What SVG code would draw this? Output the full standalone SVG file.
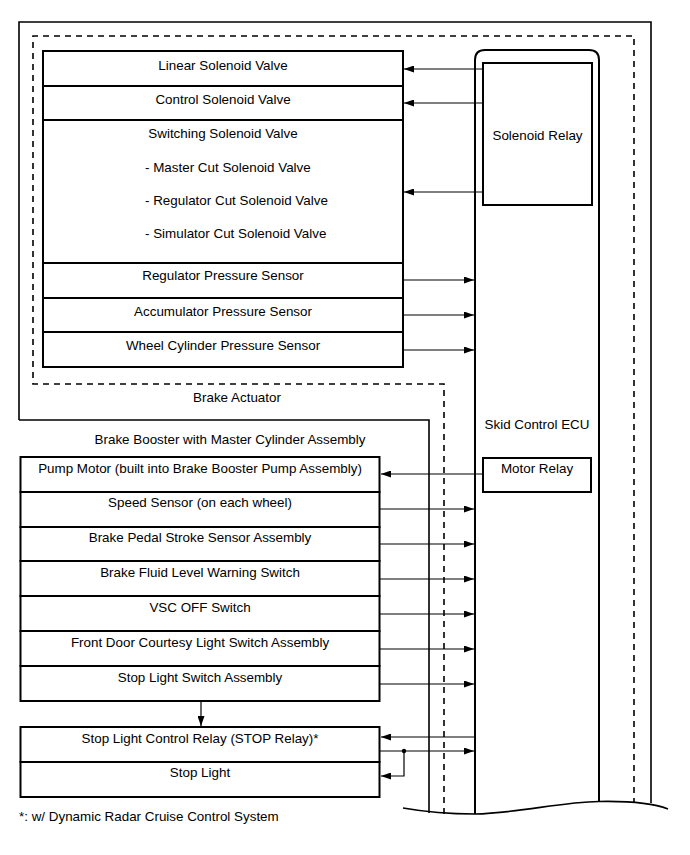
<svg xmlns="http://www.w3.org/2000/svg" width="690" height="855" viewBox="0 0 690 855">
<defs>
<marker id="ah" markerWidth="11" markerHeight="7" refX="10" refY="3.5" orient="auto" markerUnits="userSpaceOnUse">
<path d="M0,0 L10,3.5 L0,7 z" fill="#000"/>
</marker>
<style>
text{font-family:"Liberation Sans",Arial,sans-serif;font-size:13.4px;fill:#000}
.c{text-anchor:middle}
.box{fill:#fff;stroke:#000;stroke-width:2}
.frame{fill:none;stroke:#000;stroke-width:1.6}
.dash{fill:none;stroke:#000;stroke-width:1.6;stroke-dasharray:6,5}
.arr{fill:none;stroke:#000;stroke-width:1.2;marker-end:url(#ah)}
</style>
</defs>
<rect width="690" height="855" fill="#fff"/>

<g id="brake-booster-frame">
<path class="frame" d="M19 420 V22 H651 V803"/>
<path class="frame" d="M19 420 H429 V813"/>
<text class="c" x="230" y="444">Brake Booster with Master Cylinder Assembly</text>
</g>

<g id="brake-actuator-frame">
<path class="dash" d="M444 814 V384 H33 V36 H634 V802"/>
<text class="c" x="237" y="402">Brake Actuator</text>
</g>

<g id="skid-control-ecu">
<path class="frame" style="stroke-width:2" d="M475 814 V60 Q475 50 485 50 H589 Q599 50 599 60 V801.5"/>
<text class="c" x="537" y="429">Skid Control ECU</text>
</g>

<g id="break-line">
<path class="frame" d="M403 808 C420 811 440 814 475 814 C520 813 560 802 599 801.5 C625 801 650 802 668 809"/>
</g>

<g id="solenoid-relay">
<rect class="box" x="483" y="63" width="109" height="142"/>
<text class="c" x="537.5" y="140">Solenoid Relay</text>
</g>

<g id="motor-relay">
<rect class="box" x="483" y="458" width="108" height="34"/>
<text class="c" x="537" y="473">Motor Relay</text>
</g>

<g id="linear-solenoid-valve">
<rect class="box" x="43" y="51" width="360" height="35"/>
<text class="c" x="223" y="70">Linear Solenoid Valve</text>
</g>
<g id="control-solenoid-valve">
<rect class="box" x="43" y="86" width="360" height="34"/>
<text class="c" x="223" y="104">Control Solenoid Valve</text>
</g>
<g id="switching-solenoid-valve">
<rect class="box" x="43" y="120" width="360" height="143"/>
<text class="c" x="223" y="138">Switching Solenoid Valve</text>
<text x="145" y="172">- Master Cut Solenoid Valve</text>
<text x="145" y="205">- Regulator Cut Solenoid Valve</text>
<text x="145" y="238">- Simulator Cut Solenoid Valve</text>
</g>
<g id="regulator-pressure-sensor">
<rect class="box" x="43" y="263" width="360" height="35"/>
<text class="c" x="223" y="280">Regulator Pressure Sensor</text>
</g>
<g id="accumulator-pressure-sensor">
<rect class="box" x="43" y="298" width="360" height="34"/>
<text class="c" x="223" y="316">Accumulator Pressure Sensor</text>
</g>
<g id="wheel-cylinder-pressure-sensor">
<rect class="box" x="43" y="332" width="360" height="35"/>
<text class="c" x="223" y="350">Wheel Cylinder Pressure Sensor</text>
</g>

<g id="pump-motor">
<rect class="box" x="20.5" y="457" width="359" height="35"/>
<text class="c" x="200" y="472.5">Pump Motor (built into Brake Booster Pump Assembly)</text>
</g>
<g id="speed-sensor">
<rect class="box" x="20.5" y="492" width="359" height="35"/>
<text class="c" x="200" y="506.5">Speed Sensor (on each wheel)</text>
</g>
<g id="brake-pedal-stroke-sensor">
<rect class="box" x="20.5" y="527" width="359" height="34"/>
<text class="c" x="200" y="541.5">Brake Pedal Stroke Sensor Assembly</text>
</g>
<g id="brake-fluid-level-switch">
<rect class="box" x="20.5" y="561" width="359" height="35"/>
<text class="c" x="200" y="576.5">Brake Fluid Level Warning Switch</text>
</g>
<g id="vsc-off-switch">
<rect class="box" x="20.5" y="596" width="359" height="35"/>
<text class="c" x="200" y="611.5">VSC OFF Switch</text>
</g>
<g id="front-door-courtesy-switch">
<rect class="box" x="20.5" y="631" width="359" height="35"/>
<text class="c" x="200" y="646.5">Front Door Courtesy Light Switch Assembly</text>
</g>
<g id="stop-light-switch">
<rect class="box" x="20.5" y="666" width="359" height="35"/>
<text class="c" x="200" y="681.5">Stop Light Switch Assembly</text>
</g>
<g id="stop-light-control-relay">
<rect class="box" x="20.5" y="727" width="359" height="35"/>
<text class="c" x="200" y="742.5">Stop Light Control Relay (STOP Relay)*</text>
</g>
<g id="stop-light">
<rect class="box" x="20.5" y="762" width="359" height="35"/>
<text class="c" x="200" y="777">Stop Light</text>
</g>

<g id="connectors">
<line class="arr" x1="483" y1="69" x2="404" y2="69"/>
<line class="arr" x1="483" y1="103" x2="404" y2="103"/>
<line class="arr" x1="483" y1="192" x2="404" y2="192"/>
<line class="arr" x1="404" y1="280" x2="474" y2="280"/>
<line class="arr" x1="404" y1="315" x2="474" y2="315"/>
<line class="arr" x1="404" y1="350" x2="474" y2="350"/>
<line class="arr" x1="483" y1="474" x2="381" y2="474"/>
<line class="arr" x1="380" y1="509" x2="474" y2="509"/>
<line class="arr" x1="380" y1="544" x2="474" y2="544"/>
<line class="arr" x1="380" y1="579" x2="474" y2="579"/>
<line class="arr" x1="380" y1="614" x2="474" y2="614"/>
<line class="arr" x1="380" y1="649" x2="474" y2="649"/>
<line class="arr" x1="380" y1="684" x2="474" y2="684"/>
<line class="arr" x1="201" y1="701" x2="201" y2="726"/>
<line class="arr" x1="475" y1="737" x2="381" y2="737"/>
<line class="arr" x1="380" y1="751" x2="474" y2="751"/>
<path class="arr" d="M404 751 V776 H381"/>
<circle cx="404" cy="751" r="2.2" fill="#000"/>
</g>

<text x="19" y="821">*: w/ Dynamic Radar Cruise Control System</text>
</svg>
